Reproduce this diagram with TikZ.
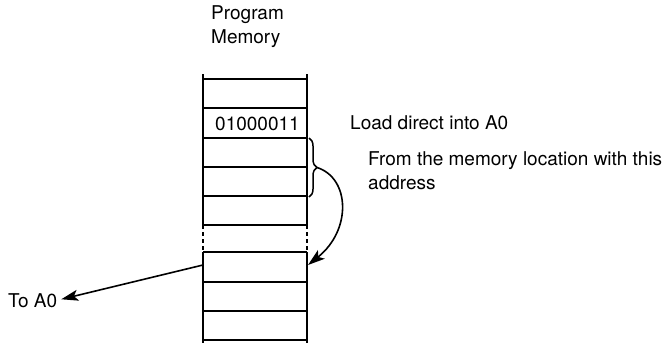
\documentclass[tikz,border=0pt]{standalone}
\usepackage{fontspec}
\setmainfont{TeX Gyre Heros}
\usetikzlibrary{arrows.meta,decorations.pathreplacing}
\begin{document}
\begin{tikzpicture}[x=1pt,y=-1pt,
  lbl/.style={font=\fontsize{19}{24}\selectfont, inner sep=0pt, anchor=base west, align=left},
  cellline/.style={line width=1.5pt},
  wall/.style={line width=2pt},
  gap/.style={line width=2pt, dash pattern=on 4pt off 3pt},
  arr/.style={line width=1.6pt, -{Stealth[length=17pt,width=11pt,inset=4pt]}}]
\useasboundingbox (0,0) rectangle (668,343);
% title (base = baseline of last line)
\node[lbl] (prog) at (211,43) {Program\\Memory};
% column walls
\draw[wall] (203,74) -- (203,225);
\draw[gap]  (203,225) -- (203,252);
\draw[wall] (203,252) -- (203,343);
\draw[wall] (307,74) -- (307,225);
\draw[gap]  (307,225) -- (307,252);
\draw[wall] (307,252) -- (307,343);
% cell separators
\foreach \y in {79,108,138,167,196,225,252,282,311,340}
  \draw[cellline] (203,\y) -- (307,\y);
% contents and labels
\node[lbl] (val) at (215,130) {01000011};
\node[lbl] (load) at (350,129) {Load direct into A0};
\node[lbl] (from) at (368,189) {From the memory location with this\\address};
\node[lbl] (toa0) at (8,307) {To A0};
% brace
\coordinate (bt) at (309,138);
\coordinate (bb) at (309,197);
\draw[line width=1.5pt, decorate, decoration={brace, amplitude=8pt}] (bt) -- (bb);
\coordinate (tip) at (317,167.5);
\coordinate (target) at (308,265);
\draw[arr] (tip) .. controls (350,178) and (352,230) .. (target);
% to A0
\coordinate (src) at (203,265);
\draw[arr, shorten >=4pt] (src) -- (toa0.east);
\end{tikzpicture}
\end{document}
